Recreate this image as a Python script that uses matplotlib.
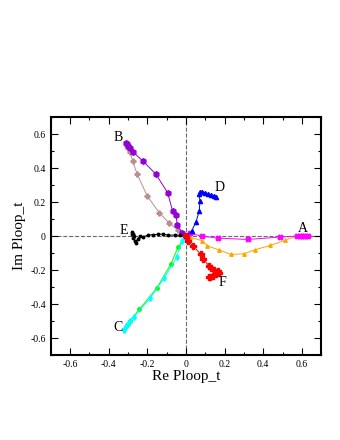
import matplotlib
matplotlib.use("Agg")
import matplotlib.pyplot as plt
from matplotlib.ticker import MultipleLocator

plt.rcParams['font.family'] = ['Liberation Serif', 'DejaVu Serif']

# A: magenta path and orange path, both ending at A
a_mag_x = [0.0, 0.02, 0.081, 0.164, 0.319, 0.486, 0.572, 0.59, 0.60, 0.61, 0.62, 0.63]
a_mag_y = [0.0, 0.016, 0.0, -0.012, -0.02, -0.006, 0.0, 0.0, 0.002, 0.0, 0.0, 0.001]
a_org_x = [0.0, 0.02, 0.085, 0.11, 0.172, 0.233, 0.30, 0.359, 0.435, 0.512, 0.572, 0.60]
a_org_y = [0.0, -0.008, -0.027, -0.057, -0.082, -0.108, -0.104, -0.08, -0.055, -0.025, 0.0, 0.0]

# B: purple and brown paths
b_pur_x = [0.0, -0.02, -0.045, -0.052, -0.069, -0.095, -0.155, -0.224, -0.276, -0.29, -0.30, -0.307, -0.31]
b_pur_y = [0.0, 0.02, 0.065, 0.124, 0.147, 0.255, 0.363, 0.443, 0.496, 0.515, 0.53, 0.54, 0.545]
b_brn_x = [0.0, -0.04, -0.086, -0.138, -0.2, -0.252, -0.276, -0.29, -0.30]
b_brn_y = [0.0, 0.035, 0.075, 0.137, 0.235, 0.363, 0.441, 0.496, 0.52]

# C: green and cyan paths
c_grn_x = [0.0, -0.04, -0.079, -0.152, -0.241, -0.29, -0.30]
c_grn_y = [0.0, -0.063, -0.167, -0.308, -0.431, -0.5, -0.515]
c_cyn_x = [0.0, -0.022, -0.048, -0.114, -0.186, -0.269, -0.29, -0.30, -0.31, -0.315, -0.32]
c_cyn_y = [0.0, -0.028, -0.125, -0.249, -0.367, -0.475, -0.5, -0.515, -0.53, -0.54, -0.55]

# D: blue
d_x = [0.0, 0.029, 0.052, 0.069, 0.072, 0.068, 0.072, 0.085, 0.10, 0.115, 0.13, 0.145, 0.155]
d_y = [0.0, 0.029, 0.084, 0.149, 0.208, 0.25, 0.262, 0.26, 0.255, 0.248, 0.242, 0.235, 0.228]

# E: black
e_x = [0.0, -0.03, -0.057, -0.092, -0.12, -0.143, -0.17, -0.195, -0.221, -0.24, -0.25, -0.258,
       -0.265, -0.272, -0.278, -0.28, -0.275, -0.268]
e_y = [0.0, 0.005, 0.006, 0.005, 0.012, 0.01, 0.008, 0.006, -0.004, 0.0, -0.02, -0.038,
       -0.03, -0.01, 0.01, 0.025, 0.015, 0.0]

# F: red
f_x = [0.0, 0.012, 0.035, 0.078, 0.09, 0.12, 0.13, 0.145, 0.165, 0.17, 0.155, 0.14, 0.125, 0.118]
f_y = [0.0, -0.03, -0.057, -0.108, -0.137, -0.176, -0.19, -0.2, -0.205, -0.215, -0.225, -0.232, -0.238, -0.242]

labels = ["A", "B", "C", "D", "E", "F"]
label_x = [0.605, -0.352, -0.352, 0.171, -0.32, 0.186]
label_y = [0.047, 0.58, -0.535, 0.288, 0.03, -0.276]

fig = plt.figure(figsize=(3.4, 4.4), dpi=100)
ax = fig.add_axes([0.149, 0.193, 0.796, 0.541])

ax.axhline(0, color='dimgray', ls='--', lw=0.8, zorder=0)
ax.axvline(0, color='dimgray', ls='--', lw=0.8, zorder=0)

ax.plot(a_org_x, a_org_y, color='orange', marker='^', ms=2.5, lw=0.7)
ax.plot(a_mag_x, a_mag_y, color='magenta', marker='X', ms=3.5, lw=0.7)
ax.plot(b_brn_x, b_brn_y, color='rosybrown', marker='P', ms=3.5, lw=0.7)
ax.plot(b_pur_x, b_pur_y, color='darkviolet', marker='h', ms=4, lw=0.7)
ax.plot(c_grn_x, c_grn_y, color='lime', marker='o', ms=2.5, lw=0.7)
ax.plot(c_cyn_x, c_cyn_y, color='cyan', marker='d', ms=3, lw=0.7)
ax.plot(d_x, d_y, color='blue', marker='^', ms=3, lw=0.7)
ax.plot(e_x, e_y, color='black', marker='o', ms=1.8, lw=0.7)
ax.plot(f_x, f_y, color='red', marker='P', ms=4, lw=0.7)

for t, x, y in zip(labels, label_x, label_y):
    ax.text(x, y, t, fontsize=10, ha='center', va='center')

ax.set_xlim(-0.7, 0.7)
ax.set_ylim(-0.7, 0.7)
ax.xaxis.set_major_locator(MultipleLocator(0.2))
ax.xaxis.set_minor_locator(MultipleLocator(0.1))
ax.yaxis.set_major_locator(MultipleLocator(0.2))
ax.yaxis.set_minor_locator(MultipleLocator(0.1))
ax.tick_params(which='both', direction='in', top=True, right=True, labelsize=7, width=0.8)
ax.tick_params(which='major', length=5)
ax.tick_params(which='minor', length=2.5)
fmt = lambda v, p: "0" if abs(v) < 1e-9 else f"{v:.1f}"
ax.xaxis.set_major_formatter(plt.FuncFormatter(fmt))
ax.yaxis.set_major_formatter(plt.FuncFormatter(fmt))
for s in ax.spines.values():
    s.set_linewidth(1.5)

ax.set_xlabel("Re Ploop_t", fontsize=11, labelpad=1)
ax.set_ylabel("Im Ploop_t", fontsize=11, labelpad=3)

fig.savefig("out.png", dpi=100)
